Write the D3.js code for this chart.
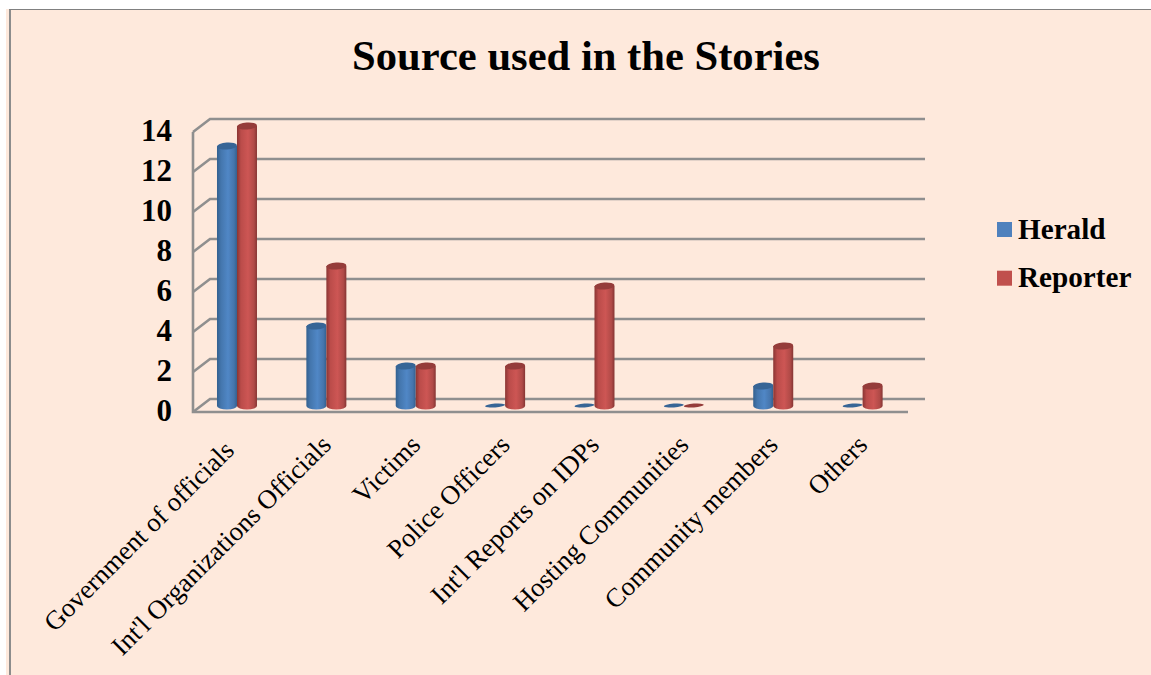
<!DOCTYPE html>
<html>
<head>
<meta charset="utf-8">
<script src="https://cdnjs.cloudflare.com/ajax/libs/d3/7.8.5/d3.min.js"></script>
<style>
  html, body { margin: 0; padding: 0; background: #fff; }
  text { font-family: "Liberation Serif", serif; fill: #000; }
  .wall { stroke: #8f8f8f; stroke-width: 2.6; fill: none; }
  .axis text { font-size: 31px; font-weight: bold; }
  .cat text { font-size: 26.7px; font-weight: normal; }
</style>
</head>
<body>
<svg id="svg" width="1151" height="675"></svg>
<script>
const categories = ["Government of officials", "Int'l Organizations Officials", "Victims", "Police Officers",
  "Int'l Reports on IDPs", "Hosting Communities", "Community members", "Others"];
const seriesNames = ["Herald", "Reporter"];
const herald = [13, 4, 2, 0, 0, 0, 1, 0];
const reporter = [14, 7, 2, 2, 6, 0, 3, 1];
const yTicks = [0, 2, 4, 6, 8, 10, 12, 14];
const title = "Source used in the Stories";

const svg = d3.select("#svg");

// panel
svg.append("rect").attr("x", 6).attr("y", 9).attr("width", 1145).attr("height", 666).attr("fill", "#fee9dc");
svg.append("path").attr("d", "M10,675V9.8").attr("fill", "none").attr("stroke", "#8c8c8c").attr("stroke-width", 2);
svg.append("path").attr("d", "M9,9.5H1151").attr("fill", "none").attr("stroke", "#808080").attr("stroke-width", 1.2);

const x = d3.scaleBand().domain(categories).range([193, 908]);
const y = d3.scaleLinear().domain([0, 14]).range([412, 132]);
const depth = {dx: 17, dy: -13};   // back wall offset
const floorDy = -6;                // bars stand in the middle of the floor

const defs = svg.append("defs");
function cylGrad(id, stops) {
  const g = defs.append("linearGradient").attr("id", id).attr("x1", 0).attr("x2", 1).attr("y1", 0).attr("y2", 0);
  stops.forEach(s => g.append("stop").attr("offset", s[0]).attr("stop-color", s[1]));
}
cylGrad("blueBar", [[0, "#32608f"], [0.2, "#4476ad"], [0.55, "#5087c6"], [0.85, "#4675ac"], [1, "#33608f"]]);
cylGrad("redBar", [[0, "#8a3533"], [0.2, "#bb4c4a"], [0.55, "#cd5654"], [0.85, "#b04a47"], [1, "#853533"]]);

// walls
const walls = svg.append("g").attr("class", "wall");
yTicks.forEach(t => {
  const yy = y(t);
  walls.append("path").attr("d", `M193,${yy}L${193 + depth.dx},${yy + depth.dy}H${908 + depth.dx}`);
});
walls.append("path").attr("d", `M193,${y(14)}V${y(0)}H908`);

// y axis labels
const yAxis = svg.append("g").attr("class", "axis").attr("transform", "translate(172,-1)")
  .call(d3.axisLeft(y).tickValues(yTicks).tickSize(0).tickPadding(0));
yAxis.select(".domain").remove();

// x axis labels, the first one sits a little further down the slope
const xAxis = svg.append("g").attr("class", "axis cat").attr("transform", "translate(0,412)")
  .call(d3.axisBottom(x).tickSize(0));
xAxis.select(".domain").remove();
xAxis.selectAll("text")
  .attr("text-anchor", "end")
  .attr("dy", 0).attr("y", 0).attr("x", 0)
  .attr("transform", (d, i) => i === 0 ? "translate(-2,40) rotate(-45)" : "translate(5.5,34.5) rotate(-45)");

// bars
const barW = 20, rx = 10, ry = 3.5;
const series = [
  {name: seriesNames[0], values: herald, fill: "url(#blueBar)", top: "#376596", flat: "#376596", off: -barW},
  {name: seriesNames[1], values: reporter, fill: "url(#redBar)", top: "#953c3a", flat: "#953c3a", off: 0}
];
const center = c => x(c) + x.bandwidth() / 2 - 0.7;
series.forEach(s => {
  const g = svg.append("g");
  categories.forEach((c, i) => {
    const v = s.values[i];
    const l = center(c) + s.off;
    const base = y(0) + floorDy, top = y(v) + floorDy;
    if (v === 0) {
      g.append("ellipse").attr("cx", l + rx).attr("cy", base - 0.5).attr("rx", rx).attr("ry", 1.9)
        .attr("transform", `rotate(-4 ${l + rx} ${base})`).attr("fill", s.flat);
      return;
    }
    g.append("path")
      .attr("d", `M${l},${top}V${base}A${rx},${ry} 0 0 0 ${l + barW},${base}V${top}Z`)
      .attr("fill", s.fill);
    g.append("ellipse").attr("cx", l + rx).attr("cy", top).attr("rx", rx).attr("ry", ry)
      .attr("transform", `rotate(-4 ${l + rx} ${top})`).attr("fill", s.top);
  });
});

// title
svg.append("text").attr("x", 586).attr("y", 70).attr("text-anchor", "middle")
  .attr("font-size", 42.6).attr("font-weight", "bold").text(title);

// legend
const legend = svg.selectAll(".leg").data(series).enter().append("g")
  .attr("transform", (d, i) => `translate(997,${222 + i * 48.7})`);
legend.append("rect").attr("width", 15).attr("height", 15)
  .attr("fill", (d, i) => i ? "#c0504d" : "#4f81bd");
legend.append("text").attr("x", 21).attr("y", 16.5).attr("font-size", 29.2).attr("font-weight", "bold").text(d => d.name);
</script>
</body>
</html>
